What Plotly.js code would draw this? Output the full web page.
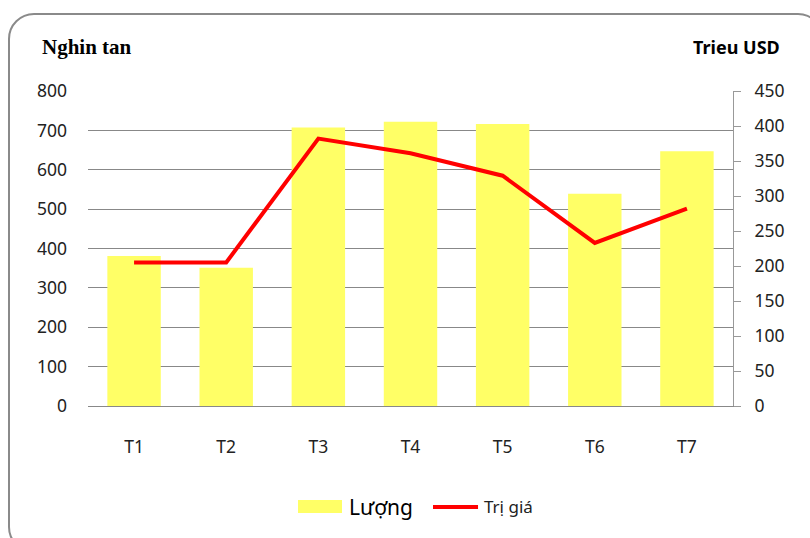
<!DOCTYPE html>
<html>
<head>
<meta charset="utf-8">
<script src="https://cdn.plot.ly/plotly-3.0.1.min.js"></script>
<style>
  body { margin: 0; background: #fff; }
  #plotArea { position: absolute; left: 0; top: 0; width: 810px; height: 538px; }
  #frame {
    position: absolute; left: 8px; top: 13px; width: 812px; height: 536px;
    border: 2px solid #8a8a8a; border-radius: 26px; pointer-events: none;
  }
</style>
</head>
<body>
<div id="plotArea"></div>
<div id="frame"></div>
<script>
// months
var months = ["T1", "T2", "T3", "T4", "T5", "T6", "T7"];
// volume, thousand tonnes (left axis)
var luong = [381, 351, 707, 722, 716, 539, 647];
// value, million USD (right axis)
var trigia = [205, 205, 382, 361, 329, 233, 282];

var barTrace = {
    x: months,
    y: luong,
    type: "bar",
    name: "Lượng",
    marker: {color: "#ffff66"},
    hoverinfo: "x+y"
};

var lineTrace = {
    x: months,
    y: trigia,
    type: "scatter",
    mode: "lines",
    name: "Trị giá",
    yaxis: "y2",
    line: {color: "#ff0000", width: 4},
    hoverinfo: "x+y"
};

var tickFont = {family: "Noto Sans, sans-serif", size: 17.5, color: "#222"};

var layout = {
    width: 810,
    height: 538,
    margin: {l: 88, r: 77, t: 91, b: 132},
    paper_bgcolor: "#fff",
    plot_bgcolor: "#fff",
    showlegend: false,
    bargap: 0.42,
    xaxis: {
        tickfont: tickFont,
        ticks: "",
        ticklabelstandoff: 25,
        showline: true,
        linecolor: "#888",
        linewidth: 1,
        fixedrange: true
    },
    yaxis: {
        range: [0, 800],
        dtick: 100,
        tickfont: tickFont,
        showgrid: true,
        gridcolor: "#888",
        gridwidth: 1,
        zeroline: false,
        showline: false,
        ticks: "",
        ticklabelstandoff: 20,
        fixedrange: true
    },
    yaxis2: {
        range: [0, 450],
        dtick: 50,
        overlaying: "y",
        side: "right",
        tickfont: tickFont,
        showgrid: false,
        zeroline: false,
        showline: true,
        linecolor: "#999",
        linewidth: 1,
        ticks: "outside",
        ticklen: 7,
        tickcolor: "#999",
        ticklabelstandoff: 10,
        fixedrange: true
    },
    annotations: [
        {text: "<b>Nghin tan</b>", xref: "paper", yref: "paper", x: -0.074, y: 1.14,
         xanchor: "left", yanchor: "middle", showarrow: false,
         font: {family: "Liberation Serif, serif", size: 21, color: "#000"}},
        {text: "<b>Trieu USD</b>", xref: "paper", yref: "paper", x: 1.076, y: 1.14,
         xanchor: "right", yanchor: "middle", showarrow: false,
         font: {family: "Liberation Sans Narrow, Noto Sans, sans-serif", size: 18, color: "#000"}},
        {text: "Lượng", xref: "paper", yref: "paper", x: 0.4016, y: -0.3206,
         xanchor: "left", yanchor: "middle", showarrow: false,
         font: {family: "Noto Sans, sans-serif", size: 21, color: "#000"}},
        {text: "Trị giá", xref: "paper", yref: "paper", x: 0.6109, y: -0.3206,
         xanchor: "left", yanchor: "middle", showarrow: false,
         font: {family: "Noto Sans, sans-serif", size: 17, color: "#222"}}
    ],
    shapes: [
        // legend swatches
        {type: "rect", xref: "paper", yref: "paper", x0: 0.3256, x1: 0.3938, y0: -0.2984, y1: -0.3397,
         fillcolor: "#ffff66", line: {width: 0}},
        {type: "line", xref: "paper", yref: "paper", x0: 0.5349, x1: 0.6047, y0: -0.3206, y1: -0.3206,
         line: {color: "#ff0000", width: 4}}
    ]
};

Plotly.newPlot("plotArea", [barTrace, lineTrace], layout, {displayModeBar: false, staticPlot: true});
</script>
</body>
</html>
